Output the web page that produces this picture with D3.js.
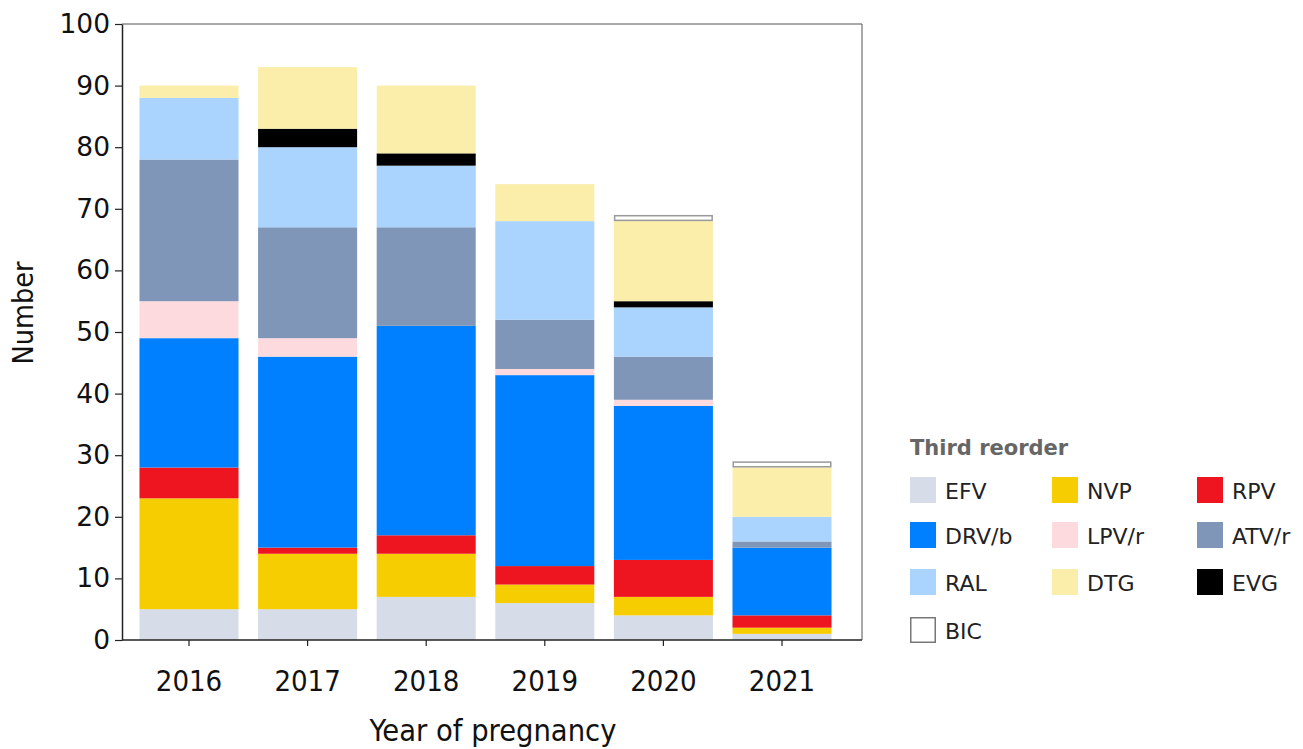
<!DOCTYPE html>
<html>
<head>
<meta charset="utf-8">
<script src="https://cdn.jsdelivr.net/npm/d3@7"></script>
<style>
  html, body { margin: 0; padding: 0; background: #ffffff; }
  svg { display: block; }
</style>
</head>
<body>
<svg id="chart" width="1303" height="749"></svg>
<script>
const years = ["2016", "2017", "2018", "2019", "2020", "2021"];
const drugs = ["EFV", "NVP", "RPV", "DRV/b", "LPV/r", "ATV/r", "RAL", "EVG", "DTG", "BIC"];
const EFV   = [5, 5, 7, 6, 4, 1];
const NVP   = [18, 9, 7, 3, 3, 1];
const RPV   = [5, 1, 3, 3, 6, 2];
const DRVb  = [21, 31, 34, 31, 25, 11];
const LPVr  = [6, 3, 0, 1, 1, 0];
const ATVr  = [23, 18, 16, 8, 7, 1];
const RAL   = [10, 13, 10, 16, 8, 4];
const EVG   = [0, 3, 2, 0, 1, 0];
const DTG   = [2, 10, 11, 6, 13, 8];
const BIC   = [0, 0, 0, 0, 1, 1];
const yTicks = [0, 10, 20, 30, 40, 50, 60, 70, 80, 90, 100];
const legendOrder = ["EFV", "NVP", "RPV", "DRV/b", "LPV/r", "ATV/r", "RAL", "DTG", "EVG", "BIC"];
const colors = {
  "EFV": "#d6dde8", "NVP": "#f5cd00", "RPV": "#ee1520", "DRV/b": "#0080ff",
  "LPV/r": "#fcdade", "ATV/r": "#7f96b8", "RAL": "#aad4fe", "DTG": "#faeeaa",
  "EVG": "#000000", "BIC": "#ffffff"
};

const seriesVals = {"EFV": EFV, "NVP": NVP, "RPV": RPV, "DRV/b": DRVb, "LPV/r": LPVr,
  "ATV/r": ATVr, "RAL": RAL, "EVG": EVG, "DTG": DTG, "BIC": BIC};
const table = years.map((y, i) => {
  const row = {year: y};
  drugs.forEach(d => row[d] = seriesVals[d][i]);
  return row;
});

const svg = d3.select("#chart");
const plot = {left: 122, right: 862, top: 24, bottom: 640};

const x = d3.scaleBand().domain(years).range([130, 841]).paddingInner(0.165).paddingOuter(0.08);
const y = d3.scaleLinear().domain([0, 100]).range([plot.bottom, plot.top]);

const stack = d3.stack().keys(drugs);
const layers = stack(table);

const g = svg.append("g");
layers.forEach(layer => {
  const key = layer.key;
  g.selectAll(null).data(layer.filter(d => d[1] - d[0] > 0)).enter()
    .append("rect")
    .attr("x", d => x(d.data.year) + (key === "BIC" ? 0.75 : 0))
    .attr("width", x.bandwidth() - (key === "BIC" ? 1.5 : 0))
    .attr("y", d => y(d[1]) + (key === "BIC" ? 0.75 : 0))
    .attr("height", d => y(d[0]) - y(d[1]) - (key === "BIC" ? 1.5 : 0))
    .attr("fill", colors[key])
    .attr("stroke", key === "BIC" ? "#999999" : "none")
    .attr("stroke-width", key === "BIC" ? 1.5 : 0);
});

// frame top/right
svg.append("line").attr("x1", plot.left).attr("x2", plot.right).attr("y1", plot.top).attr("y2", plot.top)
  .attr("stroke", "#555").attr("stroke-width", 1);
svg.append("line").attr("x1", plot.right).attr("x2", plot.right).attr("y1", plot.top).attr("y2", plot.bottom)
  .attr("stroke", "#555").attr("stroke-width", 1);

// y axis
const yAxis = d3.axisLeft(y).tickValues(yTicks).tickSize(7).tickPadding(5).tickSizeOuter(0);
const yg = svg.append("g").attr("transform", `translate(${plot.left},0)`).call(yAxis);
yg.select(".domain").attr("stroke", "#222").attr("stroke-width", 1.5);
yg.selectAll(".tick line").attr("stroke", "#222").attr("stroke-width", 1.2);
yg.selectAll(".tick text").attr("font-family", "DejaVu Sans, Verdana, sans-serif")
  .attr("font-size", 26.5).attr("fill", "#111");

// x axis
const xAxis = d3.axisBottom(x).tickSize(6).tickPadding(24).tickSizeOuter(0);
const xg = svg.append("g").attr("transform", `translate(0,${plot.bottom})`).call(xAxis);
xg.select(".domain").attr("d", `M${plot.left},0H${plot.right}`).attr("stroke", "#222").attr("stroke-width", 1.5);
xg.selectAll(".tick line").attr("stroke", "#222").attr("stroke-width", 1.2);
xg.selectAll(".tick text").attr("font-family", "DejaVu Sans Condensed, DejaVu Sans, sans-serif")
  .style("font-stretch", "condensed")
  .attr("font-size", 29).attr("fill", "#111");

// axis titles
svg.append("text").attr("x", 493).attr("y", 741).attr("text-anchor", "middle")
  .attr("font-family", "DejaVu Sans Condensed, DejaVu Sans, sans-serif").style("font-stretch", "condensed")
  .attr("font-size", 30.5).attr("fill", "#111").text("Year of pregnancy");
svg.append("text").attr("transform", "translate(33,313) rotate(-90)").attr("text-anchor", "middle")
  .attr("font-family", "DejaVu Sans Condensed, DejaVu Sans, sans-serif").style("font-stretch", "condensed")
  .attr("font-size", 28.5).attr("fill", "#111").text("Number");

// legend
const lg = svg.append("g");
lg.append("text").attr("x", 910).attr("y", 455)
  .attr("font-family", "DejaVu Sans, Verdana, sans-serif").attr("font-weight", "bold")
  .attr("font-size", 21).attr("fill", "#666").text("Third reorder");
const colX = [910, 1052, 1197];
const rowY = [477, 522, 569, 617];
legendOrder.forEach((k, i) => {
  const c = i % 3, r = Math.floor(i / 3);
  const item = lg.append("g").attr("transform", `translate(${colX[c]},${rowY[r]})`);
  item.append("rect").attr("x", k === "BIC" ? 0.75 : 0).attr("y", k === "BIC" ? 0.75 : 0)
    .attr("width", k === "BIC" ? 24.5 : 26).attr("height", k === "BIC" ? 24.5 : 26)
    .attr("fill", colors[k]).attr("stroke", k === "BIC" ? "#777" : "none").attr("stroke-width", 1.5);
  item.append("text").attr("x", 35).attr("y", 22)
    .attr("font-family", "DejaVu Sans, Verdana, sans-serif").attr("font-size", 22).attr("fill", "#222").text(k);
});
</script>
</body>
</html>
